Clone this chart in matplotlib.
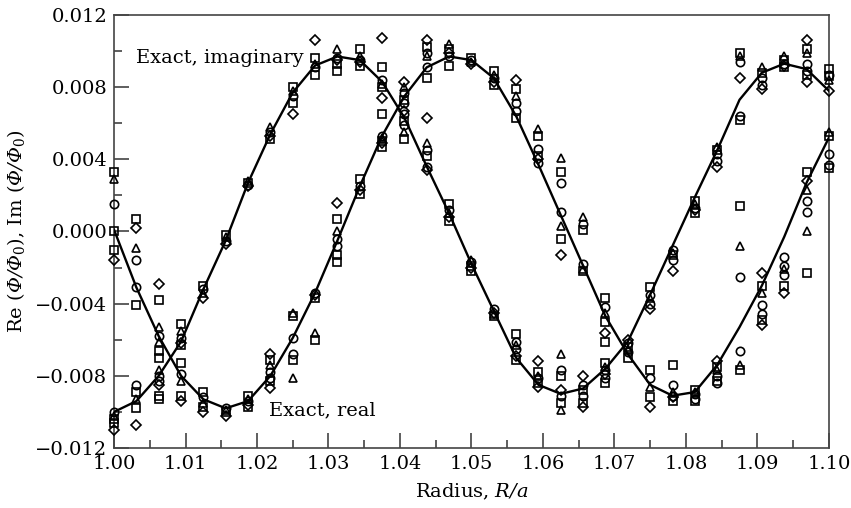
import matplotlib
matplotlib.use("Agg")
import matplotlib.pyplot as plt
import numpy as np
from matplotlib.ticker import MultipleLocator, FuncFormatter

# sample radii (33 evenly spaced stations between 1.00 and 1.10)
radius = np.linspace(1.0, 1.1, 33)

# exact solution read at each station
exact_real = [0.0001, -0.0031, -0.0058, -0.0080, -0.0093, -0.0098, -0.0094, -0.0080,
              -0.0059, -0.0034, -0.0005, 0.0025, 0.0053, 0.0075, 0.0091, 0.0097,
              0.0095, 0.0085, 0.0064, 0.0037, 0.0009, -0.0019, -0.0047, -0.0068,
              -0.0085, -0.0091, -0.0089, -0.0074, -0.0053, -0.0030, -0.0003, 0.0027,
              0.0052]
exact_imag = [-0.0100, -0.0094, -0.0080, -0.0061, -0.0032, -0.0005, 0.0027, 0.0054,
              0.0077, 0.0092, 0.0097, 0.0095, 0.0083, 0.0063, 0.0036, 0.0010,
              -0.0018, -0.0044, -0.0070, -0.0085, -0.0090, -0.0087, -0.0076, -0.0061,
              -0.0035, -0.0008, 0.0019, 0.0045, 0.0073, 0.0088, 0.0093, 0.0090,
              0.0078]

# numerical results, one list per station (real and imaginary parts together)
circles = [
    [0.0015, -0.0100], [-0.0016, -0.0031, -0.0085], [-0.0058, -0.0080, -0.0083],
    [-0.0059, -0.0079], [-0.0032, -0.0092], [-0.0005, -0.0098], [0.0026, -0.0094],
    [0.0055, -0.0078, -0.0081], [0.0075, -0.0059, -0.0068], [0.0091, -0.0034],
    [0.0096, -0.0004, -0.0008], [0.0095, 0.0025], [0.0084, 0.0053],
    [0.0077, 0.0071, 0.0065, 0.0059], [0.0091, 0.0099, 0.0045, 0.0036],
    [0.0097, 0.0012], [0.0095, -0.0017], [0.0085, -0.0043],
    [0.0071, 0.0067, -0.0061, -0.0065], [0.0046, 0.0038, -0.0081],
    [0.0027, 0.0011, -0.0077, -0.0091], [0.0004, -0.0018, -0.0085, -0.0091],
    [-0.0042, -0.0077, -0.0081], [-0.0067, -0.0062], [-0.0081, -0.0035, -0.0040],
    [-0.0085, -0.0091, -0.0010, -0.0016], [-0.0090, -0.0093, 0.0013],
    [-0.0080, -0.0084, 0.0043, 0.0039], [-0.0025, -0.0066, 0.0094, 0.0064],
    [-0.0041, -0.0046, 0.0085, 0.0081], [-0.0014, -0.0019, -0.0024, 0.0093],
    [0.0017, 0.0011, 0.0093, 0.0089], [0.0043, 0.0037, 0.0087],
]
squares = [
    [0.0033, 0.0000, -0.0010, -0.0104, -0.0106], [0.0007, -0.0041, -0.0089, -0.0098],
    [-0.0038, -0.0066, -0.0070, -0.0091, -0.0093], [-0.0051, -0.0063, -0.0073, -0.0091],
    [-0.0030, -0.0089, -0.0097], [-0.0002, -0.0100], [0.0027, -0.0091, -0.0097],
    [0.0051, -0.0071, -0.0083], [0.0080, 0.0071, -0.0047, -0.0071],
    [0.0096, 0.0087, -0.0037, -0.0060], [0.0093, 0.0089, 0.0007, -0.0013, -0.0017],
    [0.0101, 0.0092, 0.0029, 0.0021], [0.0091, 0.0080, 0.0065, 0.0050, 0.0047],
    [0.0073, 0.0061, 0.0051], [0.0102, 0.0085, 0.0042],
    [0.0101, 0.0092, 0.0015, 0.0006], [0.0096, -0.0019, -0.0022],
    [0.0089, 0.0081, -0.0047], [0.0079, 0.0063, -0.0057, -0.0071],
    [0.0053, 0.0042, -0.0078, -0.0084], [0.0033, -0.0004, -0.0080, -0.0095],
    [0.0001, -0.0022, -0.0088, -0.0095], [-0.0037, -0.0050, -0.0061, -0.0073, -0.0084],
    [-0.0070, -0.0064], [-0.0077, -0.0092, -0.0031], [-0.0074, -0.0094, -0.0013],
    [-0.0088, -0.0094, 0.0017, 0.0010], [-0.0075, -0.0083, 0.0045],
    [0.0014, -0.0077, 0.0099, 0.0062], [-0.0030, -0.0049, 0.0088],
    [-0.0030, 0.0095, 0.0091], [0.0033, -0.0023, 0.0101, 0.0087],
    [0.0053, 0.0035, 0.0090, 0.0086],
]
triangles = [
    [0.0029, -0.0102], [-0.0009, -0.0093], [-0.0053, -0.0061, -0.0077],
    [-0.0055, -0.0083], [-0.0034, -0.0095], [-0.0003, -0.0099], [0.0028, -0.0093],
    [0.0058, -0.0074], [0.0078, -0.0045, -0.0081], [0.0093, -0.0056],
    [0.0101, 0.0000], [0.0097], [0.0082, 0.0052], [0.0080, 0.0055], [0.0097, 0.0049],
    [0.0104, 0.0010], [0.0094, -0.0016], [0.0087, -0.0046], [0.0075, -0.0063],
    [0.0057, -0.0080], [0.0041, 0.0003, -0.0068, -0.0099], [0.0008, -0.0021],
    [-0.0045, -0.0075], [-0.0065], [-0.0086, -0.0037], [-0.0089, -0.0012],
    [-0.0089, 0.0015], [-0.0077, 0.0047], [-0.0008, -0.0074, 0.0097],
    [-0.0034, 0.0091], [-0.0021, 0.0097], [0.0023, 0.0000, 0.0099], [0.0055, 0.0084],
]
diamonds = [
    [-0.0016, -0.0110], [0.0002, -0.0107], [-0.0029, -0.0085], [-0.0062, -0.0094],
    [-0.0037, -0.0100], [-0.0007, -0.0102], [0.0025, -0.0096],
    [0.0053, -0.0068, -0.0087], [0.0065], [0.0106, -0.0035], [0.0095, 0.0016],
    [0.0094, 0.0023], [0.0107, 0.0074, 0.0049], [0.0083, 0.0067],
    [0.0106, 0.0063, 0.0034], [0.0099, 0.0008], [0.0093, -0.0020], [0.0083, -0.0045],
    [0.0084, -0.0069], [0.0040, -0.0072, -0.0086], [-0.0013, -0.0088],
    [-0.0080, -0.0097], [-0.0056, -0.0079], [-0.0060], [-0.0097, -0.0043],
    [-0.0092, -0.0022], [0.0012], [-0.0072, 0.0036], [0.0085],
    [-0.0023, -0.0052, 0.0079], [-0.0034, 0.0092], [0.0028, 0.0106, 0.0083], [0.0078],
]

plt.rcParams['font.family'] = ['DejaVu Serif']
plt.rcParams['mathtext.fontset'] = 'custom'
plt.rcParams['mathtext.rm'] = 'DejaVu Serif:italic'
plt.rcParams['mathtext.it'] = 'DejaVu Serif:italic'
plt.rcParams['mathtext.sf'] = 'DejaVu Serif'

fig = plt.figure(figsize=(8.51, 5.08), dpi=100)
ax = fig.add_axes([0.134, 0.1181, 0.840, 0.8524])

ax.plot(radius, exact_real, color='black', lw=1.7, zorder=3)
ax.plot(radius, exact_imag, color='black', lw=1.7, zorder=3)


def scatter_group(groups, marker, ms):
    xs, ys = [], []
    for i, vals in enumerate(groups):
        for v in vals:
            xs.append(radius[i])
            ys.append(v)
    ax.plot(xs, ys, ls='none', marker=marker, ms=ms, mfc='none', mec='black',
            mew=1.2, clip_on=False, zorder=4)


scatter_group(circles, 'o', 6.0)
scatter_group(squares, 's', 5.5)
scatter_group(triangles, '^', 5.5)
scatter_group(diamonds, 'D', 4.8)

ax.text(1.0031, 0.0096, 'Exact, imaginary', fontsize=14, va='center', ha='left')
ax.text(1.0217, -0.0099, 'Exact, real', fontsize=14, va='center', ha='left')

ax.set_xlim(1.0, 1.1)
ax.set_ylim(-0.012, 0.012)
ax.xaxis.set_major_locator(MultipleLocator(0.01))
ax.xaxis.set_minor_locator(MultipleLocator(0.005))
ax.yaxis.set_major_locator(MultipleLocator(0.004))
ax.yaxis.set_minor_locator(MultipleLocator(0.002))
ax.xaxis.set_major_formatter(FuncFormatter(lambda v, p: '%.2f' % v))
ax.yaxis.set_major_formatter(
    FuncFormatter(lambda v, p: ('%.3f' % (0.0 if abs(v) < 1e-9 else v)).replace('-', '\u2212')))

ax.tick_params(which='both', direction='in', top=False, right=False,
               labelsize=14, color='#333333', width=1.1, pad=5)
ax.tick_params(which='major', length=11)
ax.tick_params(which='minor', length=6)
for s in ax.spines.values():
    s.set_color('#444444')
    s.set_linewidth(1.2)

ax.set_xlabel(r'Radius, $R/a$', fontsize=14, labelpad=6)
ax.set_ylabel(r'Re ($\Phi/\Phi_{\mathsf{0}}$), Im ($\Phi/\Phi_{\mathsf{0}}$)',
              fontsize=14, labelpad=6)

plt.savefig('out.png', dpi=100)
